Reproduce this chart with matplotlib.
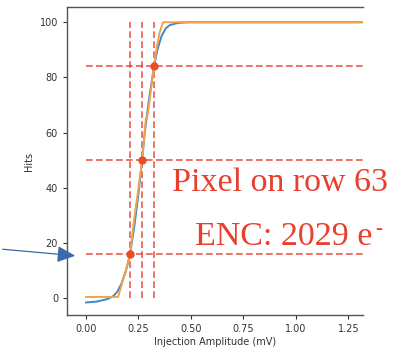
import matplotlib
matplotlib.use("Agg")
import matplotlib.pyplot as plt

# Data
fit_x = [0.00, 0.05, 0.10, 0.13, 0.15, 0.17, 0.19, 0.21, 0.23, 0.25, 0.267, 0.28, 0.30, 0.324, 0.34, 0.36, 0.38, 0.40, 0.43, 0.46, 0.50, 0.70, 1.00, 1.32]
fit_y = [-1.5, -1.2, -0.3, 0.8, 2.5, 5.5, 10.0, 16.0, 26.0, 38.0, 50.0, 60.0, 72.0, 84.0, 90.0, 95.0, 97.8, 99.0, 99.6, 99.9, 100.0, 100.0, 100.0, 100.0]

data_x = [0.00, 0.05, 0.10, 0.153, 0.17, 0.19, 0.21, 0.23, 0.25, 0.267, 0.285, 0.29, 0.295, 0.31, 0.324, 0.335, 0.35, 0.36, 0.367, 0.40, 0.50, 0.75, 1.00, 1.32]
data_y = [0.5, 0.5, 0.5, 0.5, 5.0, 10.0, 16.0, 29.0, 40.0, 50.0, 65.0, 66.0, 67.0, 76.0, 84.0, 90.0, 96.0, 98.5, 100.0, 100.0, 100.0, 100.0, 100.0, 100.0]

thr_x = [0.210, 0.267, 0.324]
thr_y = [16.0, 50.0, 84.0]

xticks = [0.00, 0.25, 0.50, 0.75, 1.00, 1.25]
yticks = [0, 20, 40, 60, 80, 100]
label_text = ["Pixel on row 63", "ENC: 2029 e", "-"]

fig = plt.figure(figsize=(3.95, 3.53), dpi=100)
ax = fig.add_axes([0.170, 0.108, 0.749, 0.872])

red = "#e8402e"
for xv in thr_x:
    ax.plot([xv, xv], [0, 100], ls=(0, (4, 2)), color=red, lw=1.2, alpha=0.85, zorder=1)
for yv in thr_y:
    ax.plot([0, 1.32], [yv, yv], ls=(0, (4, 2)), color=red, lw=1.2, alpha=0.85, zorder=1)

ax.plot(fit_x, fit_y, color="#3d88c8", lw=1.4, zorder=2)
ax.plot(data_x, data_y, color="#f2a24a", lw=1.4, zorder=3)
ax.plot(thr_x, thr_y, "o", color="#f04a24", ms=5, zorder=4)

ax.set_xlim(-0.09, 1.32)
ax.set_ylim(-6, 105.5)
ax.set_xticks(xticks)
ax.set_xticklabels([f"{v:.2f}" for v in xticks])
ax.set_yticks(yticks)
ax.tick_params(labelsize=7, colors="#333333", length=3, width=0.8)
ax.spines["right"].set_visible(False)
for s in ["left", "top", "bottom"]:
    ax.spines[s].set_color("#555555")
    ax.spines[s].set_linewidth(1.0)
ax.set_xlabel("Injection Amplitude (mV)", fontsize=7, color="#333333", labelpad=2)
ax.set_ylabel("Hits", fontsize=7, color="#333333", labelpad=4)

fig.text(0.436, 0.481, label_text[0], family="Liberation Serif", fontsize=24.5,
         color="#e8402e", ha="left", va="center")
fig.text(0.493, 0.330, label_text[1], family="Liberation Serif", fontsize=24.5,
         color="#e8402e", ha="left", va="center")
fig.text(0.949, 0.350, label_text[2], family="Liberation Serif", fontsize=15,
         color="#e8402e", ha="left", va="center")

ax.annotate("", xy=(78, 97), xycoords="figure pixels", xytext=(0, 104), textcoords="figure pixels",
            arrowprops=dict(arrowstyle="-|>,head_length=1.1,head_width=0.5", color="#3a6aa8", lw=0.9),
            annotation_clip=False)

fig.savefig("out.png", dpi=100)
